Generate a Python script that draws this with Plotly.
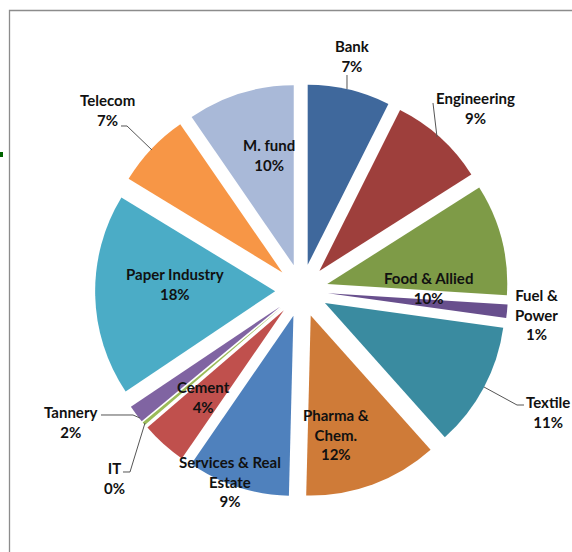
import plotly.graph_objects as go

# ---------------- data ----------------
sectors = ["Bank", "Engineering", "Food & Allied", "Fuel & Power", "Textile",
           "Pharma & Chem.", "Services & Real Estate", "Cement", "IT", "Tannery",
           "Paper Industry", "Telecom", "M. fund"]
shares = [7.4, 8.6, 10.0, 1.2, 11.2, 12.0, 9.2, 4.1, 0.3, 1.6, 18.1, 6.7, 9.6]

# label text as displayed (line breaks are presentation only)
label_lines = {
    "Bank": ["Bank"],
    "Engineering": ["Engineering"],
    "Food & Allied": ["Food & Allied"],
    "Fuel & Power": ["Fuel &", "Power"],
    "Textile": ["Textile"],
    "Pharma & Chem.": ["Pharma &", "Chem."],
    "Services & Real Estate": ["Services & Real", "Estate"],
    "Cement": ["Cement"],
    "IT": ["IT"],
    "Tannery": ["Tannery"],
    "Paper Industry": ["Paper Industry"],
    "Telecom": ["Telecom"],
    "M. fund": ["M. fund"],
}

# ---------------- style ----------------
colors = ["#3F689C", "#9E3F3C", "#7E9B47", "#684F8D", "#3A8BA0", "#CF7B38",
          "#4F81BD", "#C0504D", "#9BBB59", "#8064A2", "#4BACC6", "#F79646", "#A9B9D8"]

W, H = 572, 552
FONT = "Lato"
FSIZE = 15


def px(x):
    return x / W


def py(y):
    return 1 - y / H


# label centres (pixels) and leader lines (pixels)
label_pos = {
    "Bank": (352, 56.5),
    "Engineering": (475, 107.5),
    "Food & Allied": (428, 288),
    "Fuel & Power": (536, 314),
    "Textile": (548, 411.5),
    "Pharma & Chem.": (336, 435),
    "Services & Real Estate": (230, 481),
    "Cement": (203, 396.5),
    "IT": (114, 477.5),
    "Tannery": (70, 421.5),
    "Paper Industry": (175, 283.5),
    "Telecom": (107, 110.5),
    "M. fund": (269, 155),
}
leaders = {
    "Bank": [(347, 75), (347, 89)],
    "Engineering": [(433, 103), (437, 137)],
    "Textile": [(524, 405), (517, 405), (484, 387)],
    "Tannery": [(101, 415), (133, 415), (140, 418)],
    "IT": [(123, 472), (130, 472), (145, 423)],
    "Telecom": [(121, 126), (127, 126), (152, 150)],
}

# pie geometry
cx, cy, R, pull = 301.6, 290.6, 180.0, 0.147
half = R * (1 + pull)

fig = go.Figure(go.Pie(
    labels=sectors,
    values=shares,
    sort=False,
    direction="clockwise",
    rotation=0,
    pull=[pull] * len(sectors),
    marker=dict(colors=colors, line=dict(width=0)),
    textinfo="none",
    hoverinfo="label+percent",
    domain=dict(x=[px(cx - half), px(cx + half)], y=[py(cy + half), py(cy - half)]),
))

total = sum(shares)
annotations = []
for name, v in zip(sectors, shares):
    pct = f"{round(v / total * 100):.0f}%"
    txt = "<br>".join(label_lines[name] + [pct])
    x, y = label_pos[name]
    annotations.append(dict(
        x=px(x), y=py(y), xref="paper", yref="paper", text=txt, showarrow=False,
        xanchor="center", yanchor="middle", align="center",
        font=dict(family=FONT, size=FSIZE, color="#111111", weight="bold"),
    ))

shapes = []
for name, pts in leaders.items():
    path = "M " + " L ".join(f"{px(a):.5f},{py(b):.5f}" for a, b in pts)
    shapes.append(dict(type="path", path=path, xref="paper", yref="paper",
                       line=dict(color="#555555", width=1)))

# chart frame and small marker at left edge
shapes.append(dict(type="rect", xref="paper", yref="paper",
                   x0=px(9.5), x1=px(600), y0=py(600), y1=py(10.5),
                   line=dict(color="#8C8C8C", width=1.3), layer="below"))
shapes.append(dict(type="rect", xref="paper", yref="paper",
                   x0=px(0), x1=px(3), y0=py(157), y1=py(152),
                   line=dict(width=0), fillcolor="#006400"))

fig.update_layout(
    width=W, height=H, autosize=False,
    margin=dict(l=0, r=0, t=0, b=0),
    paper_bgcolor="white", plot_bgcolor="white",
    showlegend=False,
    annotations=annotations,
    shapes=shapes,
)

fig.write_html(
    "out.html",
    config={"displayModeBar": False},
    post_script="document.body.style.margin='0';document.body.style.overflow='hidden';",
)
